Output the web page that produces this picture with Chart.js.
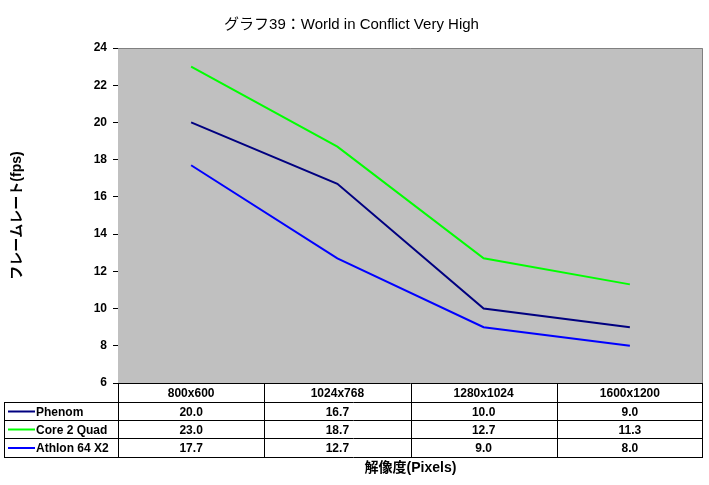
<!DOCTYPE html>
<html>
<head>
<meta charset="utf-8">
<script src="https://cdn.jsdelivr.net/npm/chart.js@4/dist/chart.umd.min.js"></script>
<style>
  body { margin: 0; background: #fff; }
  #wrap { width: 709px; height: 485px; }
</style>
</head>
<body>
<div id="wrap"><canvas id="chart" width="709" height="485"></canvas></div>
<script>
const resolutions = ['800x600', '1024x768', '1280x1024', '1600x1200'];
const phenom = [20.0, 16.7, 10.0, 9.0];
const core2Quad = [23.0, 18.7, 12.7, 11.3];
const athlon = [17.7, 12.7, 9.0, 8.0];
const seriesNames = ['Phenom', 'Core 2 Quad', 'Athlon 64 X2'];
const seriesColors = ['#000080', '#00ff00', '#0000ff'];

const FONT = "'Liberation Sans', 'Noto Sans CJK JP', sans-serif";
const TABLE_LEFT = 4;
const ROW_H = 18.3;

// gray plot area, data table and x axis title
const tablePlugin = {
  id: 'tablePlugin',
  beforeDatasetsDraw(chart) {
    const { ctx, chartArea: a } = chart;
    ctx.save();
    ctx.fillStyle = '#c0c0c0';
    ctx.fillRect(a.left, a.top, a.right - a.left, a.bottom - a.top);
    ctx.strokeStyle = '#808080';
    ctx.lineWidth = 1;
    ctx.beginPath();
    ctx.moveTo(a.left, a.top + 0.5);
    ctx.lineTo(a.right - 0.5, a.top + 0.5);
    ctx.lineTo(a.right - 0.5, a.bottom);
    ctx.stroke();
    ctx.restore();
  },
  afterDraw(chart) {
    const { ctx, chartArea: a } = chart;
    const x = chart.scales.x;
    const colW = (a.right - a.left) / resolutions.length;
    const top = Math.round(a.bottom) + 0.5;
    const rows = chart.data.datasets.length;
    const rowY = r => Math.round(top + ROW_H * r) + 0.5;
    const bottom = rowY(rows + 1);
    ctx.save();
    ctx.strokeStyle = '#000';
    ctx.lineWidth = 1;
    ctx.beginPath();
    ctx.moveTo(a.left, top); ctx.lineTo(a.right, top);
    for (let r = 1; r <= rows + 1; r++) {
      ctx.moveTo(TABLE_LEFT, rowY(r)); ctx.lineTo(a.right, rowY(r));
    }
    ctx.moveTo(TABLE_LEFT + 0.5, rowY(1)); ctx.lineTo(TABLE_LEFT + 0.5, bottom);
    for (let c = 0; c <= resolutions.length; c++) {
      const cx = Math.round(a.left + colW * c) + 0.5 - (c === resolutions.length ? 1 : 0);
      ctx.moveTo(cx, top); ctx.lineTo(cx, bottom);
    }
    ctx.stroke();

    ctx.fillStyle = '#000';
    ctx.font = 'bold 12px ' + FONT;
    ctx.textAlign = 'center';
    ctx.textBaseline = 'middle';
    resolutions.forEach((r, i) => {
      ctx.fillText(r, x.getPixelForValue(i), (top + rowY(1)) / 2 + 1);
    });
    chart.data.datasets.forEach((ds, r) => {
      const cy = (rowY(r + 1) + rowY(r + 2)) / 2 + 1;
      ctx.textAlign = 'center';
      ds.data.forEach((v, i) => {
        ctx.fillText(v.toFixed(1), x.getPixelForValue(i), cy);
      });
      ctx.strokeStyle = ds.borderColor;
      ctx.lineWidth = 2;
      ctx.beginPath();
      ctx.moveTo(TABLE_LEFT + 4, cy - 1);
      ctx.lineTo(TABLE_LEFT + 31, cy - 1);
      ctx.stroke();
      ctx.textAlign = 'left';
      ctx.fillText(ds.label, TABLE_LEFT + 32, cy);
    });

    ctx.font = 'bold 14px ' + FONT;
    ctx.textAlign = 'center';
    ctx.fillText('解像度(Pixels)', (a.left + a.right) / 2, bottom + 11);
    ctx.restore();
  }
};

const datasets = [phenom, core2Quad, athlon].map((d, i) => ({
  label: seriesNames[i],
  data: d,
  borderColor: seriesColors[i],
  backgroundColor: seriesColors[i],
  borderWidth: 2,
  pointRadius: 0,
  tension: 0,
  fill: false
}));

new Chart(document.getElementById('chart'), {
  type: 'line',
  data: { labels: resolutions, datasets: datasets },
  options: {
    responsive: false,
    animation: false,
    layout: { padding: { left: 0, right: 6, top: 0, bottom: 102 } },
    plugins: {
      legend: { display: false },
      tooltip: { enabled: false },
      title: {
        display: true,
        text: 'グラフ39：World in Conflict Very High',
        color: '#000',
        font: { family: FONT, size: 15, weight: 'normal' },
        padding: { top: 16, bottom: 14 }
      }
    },
    scales: {
      x: {
        display: false,
        offset: true
      },
      y: {
        min: 6,
        max: 24,
        ticks: {
          stepSize: 2,
          color: '#000',
          padding: 6,
          font: { family: FONT, size: 12, weight: 'bold' }
        },
        grid: { drawOnChartArea: false, tickLength: 5, color: '#000' },
        border: { color: '#000' },
        title: {
          display: true,
          text: 'フレームレート(fps)',
          color: '#000',
          font: { family: FONT, size: 14, weight: 'bold' },
          padding: { top: 9, bottom: 4 }
        },
        afterFit(scale) { scale.width = 118; }
      }
    }
  },
  plugins: [tablePlugin]
});
</script>
</body>
</html>
